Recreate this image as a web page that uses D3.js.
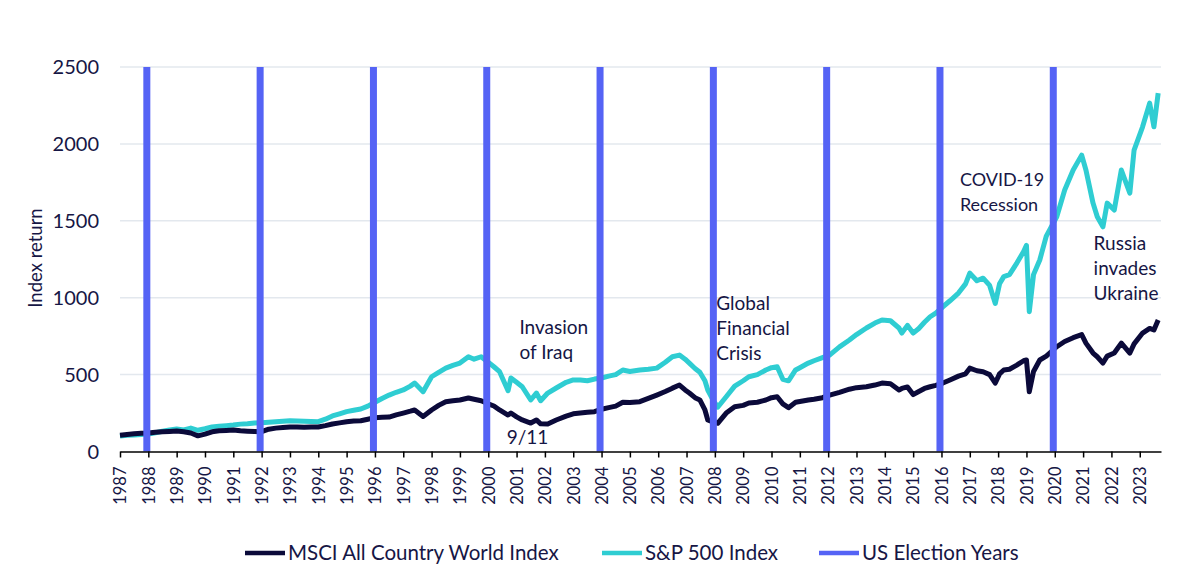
<!DOCTYPE html>
<html>
<head>
<meta charset="utf-8">
<script src="https://cdn.jsdelivr.net/npm/d3@7"></script>
<style>
  body { margin: 0; background: #fff; }
  svg { display: block; font-family: Lato, "Open Sans", sans-serif; }
</style>
</head>
<body>
<svg id="chart"></svg>
<script>
// time positions on the axis (decimal years, as labelled)
const dates = [
  1987.0, 1987.25, 1987.5, 1987.75, 1988.0, 1988.25, 1988.5, 1988.75,
  1989.0, 1989.25, 1989.5, 1989.75, 1990.0, 1990.25, 1990.5, 1990.75,
  1991.0, 1991.25, 1991.5, 1991.75, 1992.0, 1992.25, 1992.5, 1992.75,
  1993.0, 1993.25, 1993.5, 1993.75, 1994.0, 1994.25, 1994.5, 1994.75,
  1995.0, 1995.25, 1995.5, 1995.75, 1996.0, 1996.25, 1996.5, 1996.75,
  1997.0, 1997.25, 1997.4, 1997.7, 1998.0, 1998.25, 1998.5, 1998.75,
  1999.0, 1999.3, 1999.5, 1999.75, 2000.0, 2000.2, 2000.4, 2000.7,
  2000.8, 2001.0, 2001.2, 2001.5, 2001.7, 2001.85, 2002.1, 2002.4,
  2002.75, 2003.0, 2003.25, 2003.5, 2003.75, 2004.0, 2004.25, 2004.5,
  2004.75, 2005.0, 2005.35, 2005.65, 2005.95, 2006.25, 2006.5, 2006.75,
  2006.95, 2007.1, 2007.3, 2007.47, 2007.65, 2007.75, 2007.95, 2008.1,
  2008.4, 2008.7, 2009.0, 2009.2, 2009.5, 2009.8, 2010.0, 2010.2,
  2010.4, 2010.6, 2010.85, 2011.0, 2011.3, 2011.5, 2011.8, 2012.05,
  2012.4, 2012.75, 2013.0, 2013.35, 2013.65, 2013.9, 2014.2, 2014.5,
  2014.6, 2014.8, 2015.0, 2015.2, 2015.4, 2015.6, 2015.8, 2016.05,
  2016.3, 2016.6, 2016.85, 2017.0, 2017.25, 2017.47, 2017.7, 2017.9,
  2018.05, 2018.2, 2018.4, 2018.66, 2018.9, 2019.0, 2019.1, 2019.25,
  2019.47, 2019.7, 2020.07, 2020.35, 2020.65, 2020.95, 2021.1, 2021.35,
  2021.5, 2021.7, 2021.85, 2022.1, 2022.35, 2022.65, 2022.8, 2023.1,
  2023.35, 2023.5, 2023.65
];

const msci = [
  105, 110, 115, 118, 120, 125, 128, 130,
  133, 128, 120, 102, 113, 128, 135, 137,
  140, 135, 132, 130, 129, 145, 152, 156,
  159, 160, 158, 160, 159, 168, 179, 186,
  194, 198, 200, 210, 220, 222, 224, 238,
  250, 262, 270, 228, 270, 300, 324, 330,
  335, 348, 340, 330, 310, 296, 270, 237,
  250, 225, 205, 185, 205, 180, 179, 205,
  230, 245, 250, 255, 259, 275, 285, 295,
  320, 318, 324, 345, 367, 390, 412, 432,
  400, 380, 350, 335, 270, 205, 190, 183,
  250, 291, 300, 315, 320, 335, 350, 356,
  310, 285, 320, 325, 335, 340, 350, 367,
  385, 405, 415, 421, 432, 445, 440, 400,
  410, 420, 370, 390, 410, 421, 430, 445,
  465, 490, 505, 542, 525, 519, 500, 445,
  505, 530, 535, 562, 590, 595, 389, 520,
  595, 620, 681, 715, 740, 760, 705, 640,
  616, 575, 620, 640, 705, 640, 700, 770,
  800, 790, 855
];

const sp500 = [
  100, 105, 108, 110, 113, 122, 132, 140,
  146, 140, 152, 138, 148, 160, 165, 168,
  172, 178, 180, 185, 187, 190, 194, 197,
  200, 198, 196, 195, 194, 210, 231, 245,
  259, 268, 276, 295, 320, 345, 367, 385,
  400, 425, 445, 389, 486, 515, 542, 560,
  575, 616, 600, 616, 580, 551, 519, 395,
  478, 450, 421, 335, 380, 330, 380, 413,
  450, 465, 465, 460, 471, 478, 490, 500,
  530, 520, 530, 535, 542, 580, 616, 627,
  600, 575, 540, 515, 460, 400, 330, 288,
  356, 425, 460, 486, 500, 530, 545, 551,
  470, 460, 530, 545, 575, 590, 610, 627,
  680, 725, 760, 803, 835, 855, 850, 803,
  770, 820, 770, 800, 840, 876, 900, 941,
  980, 1030, 1090, 1160, 1110, 1127, 1080, 963,
  1090, 1137, 1150, 1225, 1300, 1340, 909, 1150,
  1245, 1400, 1526, 1700, 1830, 1927, 1830, 1615,
  1526, 1461, 1615, 1570, 1830, 1680, 1960, 2111,
  2265, 2111, 2330
];

const electionYears = [1988, 1992, 1996, 2000, 2004, 2008, 2012, 2016, 2020];
const tickYears = d3.range(1987, 2024);
const yTicks = [0, 500, 1000, 1500, 2000, 2500];

const annotations = [
  { lines: ['Invasion', 'of Iraq'], t: 2001.1, v: 805, size: 19 },
  { lines: ['9/11'], t: 2000.65, v: 95, size: 19 },
  { lines: ['Global', 'Financial', 'Crisis'], t: 2008.05, v: 965, size: 19 },
  { lines: ['COVID-19', 'Recession'], t: 2016.65, v: 1770, size: 18 },
  { lines: ['Russia', 'invades', 'Ukraine'], t: 2021.37, v: 1355, size: 19 }
];

const series = [
  { name: 'MSCI All Country World Index', values: msci, color: '#0b0a3a' },
  { name: 'S&P 500 Index', values: sp500, color: '#2fcdd2' }
];
const barColor = '#5563f5';
const textColor = '#161645';

const W = 1200, H = 581;
const svg = d3.select('#chart').attr('width', W).attr('height', H);

const x = d3.scaleLinear().domain([1987, 2023.75]).range([120, 1161]);
const y = d3.scaleLinear().domain([0, 2500]).range([451.5, 67]);

// gridlines
svg.append('g')
  .selectAll('line')
  .data(yTicks.filter(d => d > 0))
  .enter().append('line')
  .attr('x1', x.range()[0]).attr('x2', x.range()[1])
  .attr('y1', d => y(d)).attr('y2', d => y(d))
  .style('stroke', '#e3e8ee')
  .style('stroke-width', 1.5);

// y labels
svg.append('g')
  .selectAll('text')
  .data(yTicks)
  .enter().append('text')
  .attr('x', 99)
  .attr('y', d => y(d))
  .attr('dy', '0.35em')
  .attr('text-anchor', 'end')
  .style('font-size', '20px')
  .style('fill', textColor)
  .text(d => d);

svg.append('text')
  .attr('transform', 'translate(42,258) rotate(-90)')
  .attr('text-anchor', 'middle')
  .style('font-size', '18.5px')
  .style('fill', textColor)
  .text('Index return');

// lines
const line = d3.line()
  .x((d, i) => x(dates[i]))
  .y(d => y(d));

const lineGroup = svg.append('g');
[series[1], series[0]].forEach(s => {
  lineGroup.append('path')
    .datum(s.values)
    .attr('d', line)
    .style('fill', 'none')
    .style('stroke', s.color)
    .style('stroke-width', 5)
    .style('stroke-linejoin', 'round');
});

// election year bars
svg.append('g')
  .selectAll('rect')
  .data(electionYears)
  .enter().append('rect')
  .attr('x', d => x(d) - 5)
  .attr('width', 7)
  .attr('y', y(2500))
  .attr('height', y(0) - y(2500))
  .style('fill', barColor);

// x axis
const xAxis = d3.axisBottom(x)
  .tickValues(tickYears)
  .tickFormat(d3.format('d'))
  .tickSize(6)
  .tickSizeOuter(0);

const gx = svg.append('g')
  .attr('transform', `translate(0,${y(0)})`)
  .call(xAxis);
gx.select('.domain').style('stroke', '#000').style('stroke-width', 1.5);
gx.selectAll('.tick line').style('stroke', '#000').style('stroke-width', 1.5);
gx.selectAll('.tick text')
  .attr('transform', 'rotate(-90)')
  .attr('x', -15)
  .attr('y', 0)
  .attr('dy', '0.35em')
  .attr('text-anchor', 'end')
  .style('font-family', 'Lato, sans-serif')
  .style('font-size', '16.5px')
  .style('fill', textColor);

// annotations
const ann = svg.append('g')
  .selectAll('text')
  .data(annotations)
  .enter().append('text')
  .attr('x', d => x(d.t))
  .attr('y', d => y(d.v))
  .style('font-size', d => d.size + 'px')
  .style('fill', textColor);
ann.selectAll('tspan')
  .data(d => d.lines.map((l, i) => ({ l, i, t: d.t })))
  .enter().append('tspan')
  .attr('x', d => x(d.t))
  .attr('dy', d => d.i === 0 ? '0.35em' : 25)
  .text(d => d.l);

// legend
const legendItems = [
  { name: series[0].name, color: series[0].color, x: 245 },
  { name: series[1].name, color: series[1].color, x: 602 },
  { name: 'US Election Years', color: barColor, x: 819 }
];
const lg = svg.append('g').attr('transform', 'translate(0,553)');
const li = lg.selectAll('g').data(legendItems).enter().append('g')
  .attr('transform', d => `translate(${d.x},0)`);
li.append('line')
  .attr('x1', 0).attr('x2', 40)
  .style('stroke', d => d.color)
  .style('stroke-width', 4.5);
li.append('text')
  .attr('x', 43)
  .attr('dy', '0.35em')
  .style('font-size', '20.5px')
  .style('fill', textColor)
  .text(d => d.name);
</script>
</body>
</html>
